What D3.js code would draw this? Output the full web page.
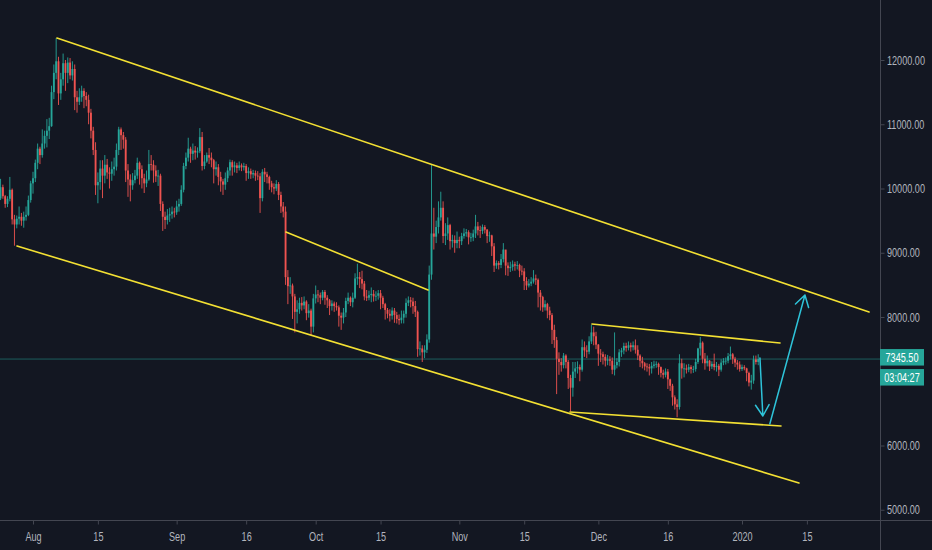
<!DOCTYPE html>
<html lang="en">
<head>
  <meta charset="UTF-8">
  <title>BTCUSD 12h</title>
  <script src="https://d3js.org/d3.v7.min.js"></script>
  <style>
    html, body {
      margin: 0;
      padding: 0;
      background: #131722;
    }
    svg text {
      font-family: "Liberation Sans", Arial, sans-serif;
    }
  </style>
</head>
<body>
  <div id="chart"></div>

  <script>
    // 12h candles, first one opens 2019-07-25 00:00 UTC. open = previous close.
    const firstOpen = 9845;
    const closes = [
      10020, 9880,  9760, 9840,  9980, 9520,  9440, 9530,  9560, 9500,  9560, 9590,  9820, 10080,          // Jul 25-31
      10160, 10400, 10620, 10520, 10700, 10820, 10900, 10970, 11500, 11800, 11980, 11480, 11700, 11950,   // Aug 1-7
      11800, 11960, 11760, 11860, 11420, 11350, 11420, 11520, 11440, 11380, 11180, 10900, 10600, 10050,   // Aug 8-14
      10100, 10310, 10200, 10370, 10250, 10230, 10300, 10340, 10600, 10920, 10830, 10760, 10280, 10140,   // Aug 15-21
      10050, 10130, 10200, 10400, 10300, 10160, 10080, 10140, 10380, 10370, 10280, 10190, 10200, 9760,    // Aug 22-28
      9560, 9510,  9580, 9600,  9640, 9630,                                                             // Aug 29-31
      9720, 9760,  9980, 10350, 10480, 10620, 10540, 10590, 10560, 10580, 10800, 10350, 10420, 10520,     // Sep 1-7
      10480, 10440, 10300, 10330, 10180, 10110, 10060, 10160, 10280, 10410, 10330, 10360, 10320, 10360,   // Sep 8-14
      10330, 10350, 10240, 10270, 10220, 10240, 10200, 10190, 9850, 10260, 10220, 10180, 10080, 10020,    // Sep 15-21
      10000, 10070, 9900, 9720,  9640, 8620,  8480, 8490,  8320, 8080,  8120, 8220,  8180, 8240,          // Sep 22-28
      8060, 8100,  7850, 8290,                                                                          // Sep 29-30
      8350, 8340,  8300, 8390,  8300, 8260,  8170, 8210,  8170, 8150,  8020, 7990,  8070, 8250,           // Oct 1-7
      8300, 8230,  8300, 8600,  8620, 8590,  8520, 8320,  8300, 8340,  8360, 8320,  8330, 8370,           // Oct 8-14
      8300, 8200,  8110, 8050,  8020, 8100,  8030, 7970,  7950, 7990,  8050, 8220,  8260, 8240,           // Oct 15-21
      8170, 8080,  7500, 7510,  7450, 7490,  7650, 8660,  9300, 9250,  9400, 9550,  9700, 9260,           // Oct 22-28
      9300, 9430,  9180, 9200,  9150, 9200,                                                             // Oct 29-31
      9180, 9260,  9300, 9320,  9240, 9240,  9300, 9410,  9350, 9340,  9400, 9360,  9260, 9270,           // Nov 1-7
      9100, 8800,  8840, 8810,  8900, 9050,  8800, 8760,  8780, 8820,  8800, 8810,  8720, 8710,           // Nov 8-14
      8560, 8490,  8520, 8550,  8600, 8580,  8380, 8310,  8150, 8200,  8100, 8030,  7800, 7640,           // Nov 15-21
      7350, 7300,  7250, 7400,  7300, 7050,  6900, 7150,  7200, 7220,  7180, 7530,  7480, 7460,           // Nov 22-28
      7620, 7760,  7700, 7570,                                                                          // Nov 29-30
      7430, 7420,  7380, 7320,  7340, 7320,  7180, 7250,  7300, 7450,  7480, 7550,  7520, 7560,           // Dec 1-7
      7530, 7560,  7490, 7400,  7320, 7280,  7230, 7220,  7200, 7240,  7260, 7270,  7220, 7130,           // Dec 8-14
      7100, 7150,  7030, 6930,  6750, 6640,  6600, 7280,  7200, 7200,  7180, 7220,  7190, 7190,           // Dec 15-21
      7300, 7510,  7600, 7350,  7280, 7320,  7230, 7270,  7220, 7240,  7180, 7290,  7320, 7320,           // Dec 22-28
      7390, 7420,  7350, 7290,  7260, 7190,                                                             // Dec 29-31
      7220, 7200,  7130, 6980,  7010, 7340,  7300, 7345.5                                               // Jan 1-4
    ];
    const highs = [
      10150, 10060, 9900, 9880,  10180, 10000, 9590, 9580,  9720, 9620,  9640, 9720,  9890, 10120,
      10260, 10450, 10700, 10650, 10920, 10900, 11080, 11100, 11600, 11930, 12340, 12050, 11800, 12100,
      12000, 12040, 12030, 11980, 11930, 11520, 11560, 11600, 11560, 11500, 11460, 11240, 10960, 10720,
      10250, 10440, 10440, 10520, 10460, 10330, 10420, 10480, 10700, 10960, 10950, 10880, 10800, 10380,
      10220, 10240, 10290, 10480, 10420, 10360, 10230, 10280, 10600, 10520, 10440, 10360, 10290, 10230,
      9800, 9640,  9680, 9700,  9720, 9700,
      9810, 9840,  10050, 10400, 10560, 10790, 10650, 10700, 10660, 10640, 10940, 10880, 10520, 10560,
      10630, 10560, 10460, 10420, 10380, 10260, 10150, 10250, 10330, 10450, 10440, 10420, 10400, 10420,
      10390, 10400, 10380, 10330, 10310, 10290, 10280, 10270, 10240, 10300, 10320, 10260, 10200, 10120,
      10080, 10130, 10100, 9950,  9790, 9720,  8730, 8620,  8520, 8360,  8260, 8300,  8310, 8320,
      8260, 8200,  8130, 8360,
      8490, 8420,  8380, 8420,  8420, 8340,  8280, 8260,  8240, 8230,  8180, 8070,  8140, 8300,
      8380, 8320,  8380, 8680,  8830, 8700,  8720, 8560,  8420, 8410,  8460, 8420,  8400, 8420,
      8420, 8330,  8220, 8140,  8120, 8150,  8140, 8080,  8040, 8100,  8100, 8290,  8320, 8310,
      8300, 8250,  8100, 7620,  7560, 7560,  7730, 8800,  10370, 9700, 9500, 9800,  9950, 9800,
      9460, 9550,  9450, 9280,  9270, 9330,
      9250, 9310,  9380, 9370,  9350, 9310,  9360, 9590,  9480, 9420,  9440, 9430,  9370, 9330,
      9280, 9150,  8880, 8870,  8980, 9150,  9040, 8850,  8860, 8880,  8860, 8870,  8830, 8800,
      8760, 8620,  8590, 8620,  8730, 8660,  8600, 8420,  8330, 8260,  8220, 8160,  8060, 7880,
      7690, 7450,  7360, 7440,  7420, 7330,  7100, 7300,  7300, 7310,  7260, 7650,  7620, 7560,
      7700, 7880,  7850, 7770,
      7580, 7500,  7460, 7420,  7410, 7390,  7370, 7760,  7360, 7500,  7520, 7600,  7600, 7620,
      7600, 7620,  7650, 7560,  7420, 7380,  7300, 7280,  7270, 7300,  7320, 7310,  7290, 7230,
      7180, 7200,  7190, 7040,  6960, 6780,  6720, 7420,  7350, 7280,  7260, 7270,  7250, 7240,
      7350, 7520,  7690, 7620,  7440, 7400,  7330, 7310,  7430, 7300,  7270, 7340,  7360, 7370,
      7440, 7540,  7440, 7380,  7330, 7310,
      7260, 7250,  7210, 7150,  7100, 7400,  7400, 7420
    ];
    const lows = [
      9820, 9840,  9700, 9710,  9800, 9440,  9110, 9380,  9440, 9420,  9390, 9500,  9570, 9780,
      9920, 10100, 10300, 10380, 10480, 10620, 10640, 10770, 10960, 11390, 11700, 11300, 11380, 11600,
      11520, 11640, 11700, 11680, 11220, 11180, 11300, 11350, 11250, 11280, 11000, 10780, 10520, 9900,
      9770, 9980,  9850, 10080, 10150, 10000, 10120, 10200, 10280, 10520, 10600, 10620, 10100, 9870,
      9800, 9980,  10080, 10150, 10060, 10000, 9930, 10020, 10120, 10280, 10090, 10100, 10040, 9650,
      9340, 9370,  9440, 9480,  9530, 9550,
      9590, 9640,  9730, 9940,  10300, 10420, 10400, 10440, 10450, 10480, 10550, 10280, 10300, 10400,
      10380, 10330, 10080, 10200, 10050, 9950, 9900, 9980,  10100, 10200, 10200, 10250, 10240, 10280,
      10270, 10280, 10120, 10150, 10150, 10160, 10120, 10130, 9620, 9800,  10100, 10080, 9980, 9940,
      9910, 9960,  9820, 9620,  9550, 8500,  8200, 8360,  7970, 7760,  7900, 8050,  8100, 8120,
      7950, 7990,  7720, 7760,
      8210, 8230,  8200, 8260,  8190, 8140,  8030, 8100,  8080, 8100,  7850, 7800,  7900, 8000,
      8200, 8170,  8150, 8280,  8500, 8450,  8430, 8260,  8250, 8260,  8230, 8240,  8250, 8270,
      8120, 8140,  7960, 7980,  7930, 7960,  7910, 7900,  7880, 7900,  7900, 7990,  8170, 8150,
      8050, 8000,  7380, 7400,  7300, 7360,  7440, 7600,  8580, 9050,  9150, 9300,  9500, 9150,
      9120, 9200,  9050, 9080,  9000, 9070,
      9070, 9120,  9220, 9250,  9130, 9170,  9180, 9230,  9270, 9230,  9290, 9300,  9150, 9170,
      8950, 8700,  8750, 8740,  8760, 8850,  8650, 8640,  8700, 8720,  8720, 8740,  8620, 8650,
      8420, 8420,  8460, 8480,  8520, 8500,  8150, 8100,  8080, 8100,  7980, 7950,  7580, 7520,
      6800, 7100,  7150, 7200,  7200, 6880,  6530, 6760,  7050, 7120,  7000, 7150,  7380, 7360,
      7420, 7580,  7560, 7500,
      7240, 7300,  7260, 7230,  7250, 7240,  7110, 7090,  7200, 7230,  7380, 7420,  7460, 7480,
      7460, 7480,  7430, 7330,  7220, 7200,  7170, 7150,  7090, 7120,  7200, 7210,  7100, 7060,
      7040, 7060,  6880, 6850,  6620, 6560,  6440, 6560,  7040, 7060,  7120, 7140,  7120, 7130,
      7150, 7270,  7400, 7280,  7180, 7230,  7160, 7190,  7170, 7150,  7080, 7150,  7250, 7260,
      7280, 7340,  7270, 7220,  7180, 7150,
      7160, 7170,  7000, 6920,  6870, 6960,  7260, 7250
    ];

    const lastPrice = 7345.5;
    const countdown = "03:04:27";

    const priceTicks = [5000, 6000, 8000, 9000, 10000, 11000, 12000];
    const timeTicks = ["2019-08-01", "2019-08-15", "2019-09-01", "2019-09-16", "2019-10-01", "2019-10-15",
                       "2019-11-01", "2019-11-15", "2019-12-01", "2019-12-16", "2020-01-01", "2020-01-15"];
    const timeTickLabels = ["Aug", "15", "Sep", "16", "Oct", "15", "Nov", "15", "Dec", "16", "2020", "15"];

    // hand drawn trend lines [time, price]
    const yellowLines = [
      [["2019-08-06T04:00Z", 12342], ["2020-01-28T10:00Z", 8078]],   // channel top
      [["2019-07-28T13:00Z", 9105], ["2020-01-13T07:00Z", 5416]],    // channel bottom
      [["2019-09-24T14:00Z", 9323], ["2019-10-25T06:00Z", 8420]],    // inner resistance
      [["2019-11-29T15:00Z", 7891], ["2020-01-09T05:00Z", 7595]],    // range top
      [["2019-11-24T21:00Z", 6521], ["2020-01-09T10:00Z", 6304]]     // range bottom
    ];
    const arrows = [
      [["2020-01-04T21:00Z", 7362], ["2020-01-05T12:00Z", 6459]],
      [["2020-01-07T00:00Z", 6335], ["2020-01-14T14:00Z", 8342]]
    ];

    const width = 932;
    const height = 550;
    const plotRight = 880;
    const plotBottom = 520;
    const squeeze = 0.7;   // the screenshot's labels are horizontally condensed

    const startTime = Date.UTC(2019, 6, 25);
    const halfDay = 12 * 3600 * 1000;
    const candles = closes.map((c, i) => ({
      t: new Date(startTime + i * halfDay),
      o: i === 0 ? firstOpen : closes[i - 1],
      h: highs[i],
      l: lows[i],
      c: c
    }));

    const x = d3.scaleUtc()
        .domain([new Date("2019-08-01T00:00Z"), new Date("2020-01-01T00:00Z")])
        .range([33, 742]);
    const y = d3.scaleLinear()
        .domain([5000, 12000])
        .range([509.75, 60]);

    const svg = d3.select("#chart").append("svg")
        .attr("width", width)
        .attr("height", height)
        .attr("viewBox", [0, 0, width, height]);

    svg.append("rect")
        .attr("width", width)
        .attr("height", height)
        .attr("fill", "#131722");

    svg.append("clipPath").attr("id", "plot")
      .append("rect")
        .attr("width", plotRight)
        .attr("height", plotBottom);

    const plot = svg.append("g").attr("clip-path", "url(#plot)");

    // last price line
    plot.append("line")
        .attr("x1", 0).attr("x2", plotRight)
        .attr("y1", y(lastPrice)).attr("y2", y(lastPrice))
        .attr("stroke", "#26a69a")
        .attr("stroke-opacity", 0.5)
        .attr("stroke-width", 1);

    // candles
    const up = "#26a69a", down = "#ef5350";
    const bw = (x(new Date(startTime + halfDay)) - x(new Date(startTime))) * 0.8;
    const candle = plot.append("g")
      .selectAll("g")
      .data(candles)
      .join("g")
        .attr("fill", d => d.c >= d.o ? up : down)
        .attr("stroke", d => d.c >= d.o ? up : down);

    candle.append("line")
        .attr("x1", d => x(d.t)).attr("x2", d => x(d.t))
        .attr("y1", d => y(d.h)).attr("y2", d => y(d.l))
        .attr("stroke-width", 0.9);

    candle.append("rect")
        .attr("x", d => x(d.t) - bw / 2)
        .attr("width", bw)
        .attr("y", d => y(Math.max(d.o, d.c)))
        .attr("height", d => Math.max(0.8, Math.abs(y(d.o) - y(d.c))))
        .attr("stroke", "none");

    // trend lines
    const pt = p => [x(new Date(p[0])), y(p[1])];
    plot.append("g")
      .selectAll("line")
      .data(yellowLines)
      .join("line")
        .attr("x1", d => pt(d[0])[0]).attr("y1", d => pt(d[0])[1])
        .attr("x2", d => pt(d[1])[0]).attr("y2", d => pt(d[1])[1])
        .attr("stroke", "#f3e033")
        .attr("stroke-width", 1.6)
        .attr("stroke-linecap", "round");

    // arrows with open heads
    const head = 13, spread = 0.55;
    plot.append("g")
        .attr("fill", "none")
        .attr("stroke", "#2ec3d9")
        .attr("stroke-width", 1.5)
        .attr("stroke-linecap", "round")
        .attr("stroke-linejoin", "round")
      .selectAll("path")
      .data(arrows)
      .join("path")
        .attr("d", d => {
          const [x1, y1] = pt(d[0]), [x2, y2] = pt(d[1]);
          const a = Math.atan2(y2 - y1, x2 - x1);
          const l = [x2 - head * Math.cos(a - spread), y2 - head * Math.sin(a - spread)];
          const r = [x2 - head * Math.cos(a + spread), y2 - head * Math.sin(a + spread)];
          return `M${x1},${y1}L${x2},${y2}M${l[0]},${l[1]}L${x2},${y2}L${r[0]},${r[1]}`;
        });

    // axis frame
    const frame = "#434651";
    svg.append("line")
        .attr("x1", plotRight + 0.5).attr("x2", plotRight + 0.5)
        .attr("y1", 0).attr("y2", height)
        .attr("stroke", frame);
    svg.append("line")
        .attr("x1", 0).attr("x2", width)
        .attr("y1", plotBottom + 0.5).attr("y2", plotBottom + 0.5)
        .attr("stroke", frame);

    // price axis
    const yAxis = svg.append("g")
        .attr("transform", `translate(${plotRight + 0.5},0)`)
        .call(d3.axisRight(y).tickValues(priceTicks).tickSize(4).tickFormat(d3.format(".2f")));
    yAxis.select(".domain").remove();
    yAxis.selectAll(".tick line").attr("stroke", frame);
    yAxis.selectAll(".tick text")
        .attr("x", 6.5 / squeeze)
        .attr("transform", `scale(${squeeze},1)`)
        .attr("fill", "#b2b5be")
        .attr("font-size", 13);

    // time axis
    const xAxis = svg.append("g")
        .attr("transform", `translate(0,${plotBottom + 0.5})`)
        .call(d3.axisBottom(x)
          .tickValues(timeTicks.map(s => new Date(s + "T00:00Z")))
          .tickSize(4).tickPadding(7)
          .tickFormat((d, i) => timeTickLabels[i]));
    xAxis.select(".domain").remove();
    xAxis.selectAll(".tick line").attr("stroke", frame);
    xAxis.selectAll(".tick text")
        .attr("transform", `scale(${squeeze},1)`)
        .attr("fill", "#b2b5be")
        .attr("font-size", 13);

    // last price + countdown labels
    const ly = y(lastPrice);
    const tag = svg.append("g").attr("transform", `translate(${plotRight},0)`);
    tag.append("rect")
        .attr("x", 0).attr("y", ly - 10).attr("width", 44).attr("height", 16.5)
        .attr("fill", "#26a69a");
    tag.append("rect")
        .attr("x", 0).attr("y", ly + 10).attr("width", 44).attr("height", 16.5)
        .attr("fill", "#26a69a");
    tag.append("text")
        .attr("x", 22 / squeeze).attr("y", ly + 2.7)
        .attr("transform", `scale(${squeeze},1)`)
        .attr("text-anchor", "middle")
        .attr("fill", "#ffffff")
        .attr("font-size", 13)
        .text(d3.format(".2f")(lastPrice));
    tag.append("text")
        .attr("x", 22 / squeeze).attr("y", ly + 22.7)
        .attr("transform", `scale(${squeeze},1)`)
        .attr("text-anchor", "middle")
        .attr("fill", "#ffffff")
        .attr("font-size", 13)
        .text(countdown);
  </script>
</body>
</html>
